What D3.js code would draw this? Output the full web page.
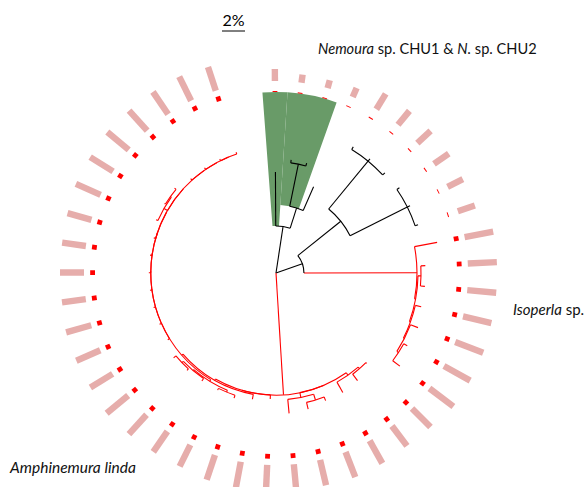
<!DOCTYPE html>
<html>
<head>
<meta charset="utf-8">
<script src="https://cdn.jsdelivr.net/npm/d3@7"></script>
<style>
  html, body { margin: 0; padding: 0; background: #fff; }
  svg { display: block; font-family: Lato, "Open Sans", sans-serif; }
</style>
</head>
<body>
<div id="chart"></div>
<script>
// Tree in newick form, branch lengths in substitutions per site
const nemouraPart = "(L0:0.047,((L1:0.0026,L2:0.0026):0.0374,L3:0.0226)grpB:0.0183)grpA:0.0409";
const middlePart = "(((L4:0.0026,L5:0.0026,L6:0.0026):0.0539,(L7:0.0026,L8:0.0026,L9:0.0026):0.0557):0.0478," +
  "(L10:0.02,((L11:0.0039,L12:0.0039):0.0026,(L13:0.0052,(L14:0.007,(L15:0.0035,L16:0.0078):0.0017):0.0009):0.0009):0.0009)Isoperla:0.0983):0.0243";
const amphRight = "(((L17:0.0009,L18:0.007):0.0017,L19:0.0104):0.0026,((L20:0.0035,L21:0.0061):0.0052,L22:0.0122):0.0043):0";
const amphLeft = "(L23:0.0035,(L24:0.0043,(((L25:0.0026,L26:0.0017):0.0017,(L27:0.0026,(L28:0.0017,L29:0.0026):0.0017):0.0009):0.0017," +
  "(L30:0.0017,(L31:0.0017,(L32:0.0017,(L33:0.0017,(L34:0.0017,(L35:0.0017,(L36:0.0017,((L37:0.0017,(L38:0.0009,L39:0.0017):0.0009):0.0035," +
  "(L40:0.0017,(L41:0.0017,(L42:0.0017,L43:0.0017):0):0):0):0):0):0):0):0):0):0):0.0002):0.0013):0.0013):0";
const newick = "(" + nemouraPart + "," + middlePart + ",(" + amphRight + "," + amphLeft + ")Amphinemura:0.1061);";

const redClades = ["Isoperla", "Amphinemura"];
const highlights = [
  { first: "L0", last: "L0", node: "grpA" },
  { first: "L1", last: "L2", node: "grpB" }
];

// inner ring (red marks) and outer ring (pink bars), one value per leaf, L0..L43
const ringValues = [0.2, 0.2, 0.2, 0.2, 0.2, 0.2, 0.2, 0.2, 0.2, 0.2,
  1, 1, 1, 1, 1, 1, 1, 1, 1, 1, 1, 1, 1, 1, 1, 1, 1, 1, 1, 1, 1, 1, 1, 1, 1, 1, 1, 1, 1, 1, 1, 1, 1, 1];
const barValues = [40, 27, 27, 33, 60, 60, 60, 60, 57, 60,
  97, 97, 97, 97, 100, 100, 100,
  87, 83, 87, 90, 87, 87, 87, 87, 87, 80, 83, 87, 93, 87, 87, 87, 80, 80, 80, 83, 90, 90, 93, 90, 90, 90, 83];

const scaleValue = 0.02;
const scaleLabel = "2%";

function parseNewick(s) {
  let i = 0;
  function node() {
    const n = {};
    if (s[i] === "(") {
      n.children = [];
      i++;
      do { n.children.push(node()); } while (s[i++] === ",");
    }
    let name = "";
    while (i < s.length && !",():;".includes(s[i])) name += s[i++];
    n.name = name;
    n.length = 0;
    if (s[i] === ":") {
      i++;
      let num = "";
      while (i < s.length && !",();".includes(s[i])) num += s[i++];
      n.length = +num;
    }
    return n;
  }
  return node();
}

const width = 588;
const height = 487;
const cx = 276, cy = 273;

const svg = d3.select("#chart").append("svg")
  .attr("width", width)
  .attr("height", height);

svg.append("rect").attr("width", width).attr("height", height).attr("fill", "#fff");

const root = d3.hierarchy(parseNewick(newick));
// leaves spread over a 350 degree arc
d3.cluster().size([350, 1]).separation(() => 1)(root);
root.eachBefore(d => { d.len = d.parent ? d.parent.len + d.data.length : 0; });

const leaves = root.leaves();
const slot = 350 / leaves.length;
const rotation = -4.3;
const angle = d3.scaleLinear().domain([0, 360]).range([rotation * Math.PI / 180, (360 + rotation) * Math.PI / 180]);
const r = d3.scaleLinear().domain([0, scaleValue]).range([0, 23]);
const ringR = d3.scaleLinear().domain([0, 1]).range([0, 4.8]);
const barR = d3.scaleLinear().domain([0, 100]).range([0, 30]);

const polar = (rad, a) => [rad * Math.sin(a), -rad * Math.cos(a)];
const isRed = d => d.ancestors().some(a => redClades.includes(a.data.name));
const color = d => isRed(d) ? "#ff0000" : "#000000";
const byName = name => root.descendants().find(d => d.data.name === name);

const g = svg.append("g").attr("transform", `translate(${cx},${cy})`);

// clade highlights
const hl = d3.arc();
g.selectAll(".hl")
  .data(highlights)
  .enter()
  .append("path")
  .attr("class", "hl")
  .attr("fill", "#699b68")
  .attr("d", h => hl({
    innerRadius: r(byName(h.node).len),
    outerRadius: 181,
    startAngle: angle(byName(h.first).x - slot / 2),
    endAngle: angle(byName(h.last).x + slot / 2)
  }));

// radial branches
g.selectAll(".branch")
  .data(root.descendants().filter(d => d.parent))
  .enter()
  .append("line")
  .attr("class", "branch")
  .attr("x1", d => polar(r(d.parent.len), angle(d.x))[0])
  .attr("y1", d => polar(r(d.parent.len), angle(d.x))[1])
  .attr("x2", d => polar(r(d.len), angle(d.x))[0])
  .attr("y2", d => polar(r(d.len), angle(d.x))[1])
  .attr("stroke", color)
  .attr("stroke-width", 1.1);

// arcs joining children
g.selectAll(".join")
  .data(root.descendants().filter(d => d.children && d.parent))
  .enter()
  .append("path")
  .attr("class", "join")
  .attr("fill", "none")
  .attr("stroke", color)
  .attr("stroke-width", 1.1)
  .attr("d", d => {
    const R = r(d.len);
    const a0 = angle(d.children[0].x);
    const a1 = angle(d.children[d.children.length - 1].x);
    const p = d3.path();
    const s = polar(R, a0);
    p.moveTo(s[0], s[1]);
    p.arc(0, 0, R, a0 - Math.PI / 2, a1 - Math.PI / 2);
    return p.toString();
  });

// inner ring of red marks
g.selectAll(".ring")
  .data(leaves)
  .enter()
  .append("rect")
  .attr("class", "ring")
  .attr("transform", d => `rotate(${angle(d.x) * 180 / Math.PI})`)
  .attr("x", -2.4)
  .attr("width", 4.8)
  .attr("y", (d, i) => -(181 + ringR(ringValues[i])))
  .attr("height", (d, i) => ringR(ringValues[i]))
  .attr("fill", "#ff0000");

// outer ring of bars
g.selectAll(".bar")
  .data(leaves)
  .enter()
  .append("rect")
  .attr("class", "bar")
  .attr("transform", d => `rotate(${angle(d.x) * 180 / Math.PI})`)
  .attr("x", -3.2)
  .attr("width", 6.4)
  .attr("y", (d, i) => -(192 + barR(barValues[i])))
  .attr("height", (d, i) => barR(barValues[i]))
  .attr("fill", "#e6adab");

// scale bar
svg.append("line")
  .attr("x1", 222).attr("x2", 222 + r(scaleValue))
  .attr("y1", 31).attr("y2", 31)
  .attr("stroke", "#000").attr("stroke-width", 1);
svg.append("text")
  .attr("x", 222 + r(scaleValue) / 2).attr("y", 26)
  .attr("text-anchor", "middle")
  .attr("font-size", 16)
  .text(scaleLabel);

// clade labels
const labels = [
  { x: 318, y: 54, size: 14.6, parts: [["Nemoura", true], [" sp. CHU1 & ", false], ["N.", true], [" sp. CHU2", false]] },
  { x: 513, y: 315, size: 15, parts: [["Isoperla", true], [" sp.", false]] },
  { x: 10, y: 473, size: 15.5, parts: [["Amphinemura linda", true]] }
];
labels.forEach(l => {
  const t = svg.append("text").attr("x", l.x).attr("y", l.y).attr("font-size", l.size).attr("fill", "#111");
  l.parts.forEach(p => {
    t.append("tspan").attr("font-style", p[1] ? "italic" : "normal").text(p[0]);
  });
});
</script>
</body>
</html>
